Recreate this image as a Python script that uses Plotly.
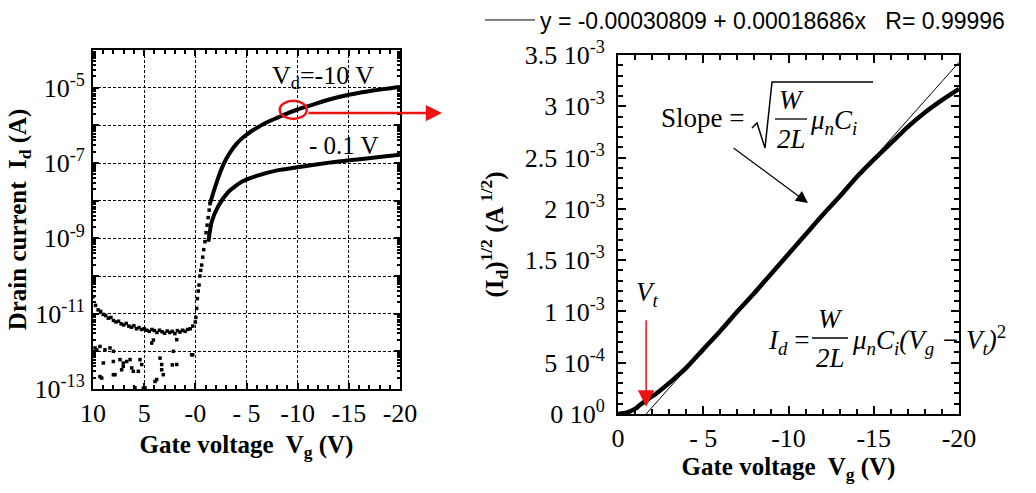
import plotly.graph_objects as go

W, H = 1036, 493


def px(x):
    return x / W


def py(y):
    return 1 - y / H


SERIF = "Liberation Serif"
SANS = "Liberation Sans"

# ---------------- left panel data (log10 of drain current) ----------------
vd10_off_vg = [10.0, 9.75, 9.5, 9.25, 9.0, 8.75, 8.5, 8.25, 8.0, 7.75, 7.5, 7.25, 7.0, 6.75,
               6.5, 6.25, 6.0, 5.75, 5.5, 5.25, 5.0, 4.75, 4.5, 4.25, 4.0, 3.75, 3.5, 3.25,
               3.0, 2.75, 2.5, 2.25, 2.0, 1.75, 1.5, 1.25, 1.0, 0.75, 0.5, 0.25, 0.0]
vd10_off_log = [-10.55, -10.78, -10.9, -10.94, -11.02, -11.05, -11.12, -11.1, -11.18, -11.22,
                -11.2, -11.27, -11.3, -11.26, -11.33, -11.36, -11.32, -11.4, -11.37, -11.42,
                -11.4, -11.44, -11.47, -11.42, -11.45, -11.5, -11.44, -11.48, -11.52, -11.46,
                -11.5, -11.47, -11.53, -11.45, -11.49, -11.44, -11.47, -11.42, -11.4, -11.33, -11.22]

vd10_sub_vg = [-0.05, -0.13, -0.2, -0.28, -0.36, -0.45, -0.53, -0.62, -0.72, -0.82, -0.94,
               -1.05, -1.15, -1.25, -1.35, -1.43]
vd10_sub_log = [-11.1, -10.86, -10.6, -10.4, -10.24, -10.0, -9.85, -9.71, -9.5, -9.3, -9.09,
                -8.85, -8.65, -8.45, -8.25, -8.08]

vd10_on_vg = [-1.43, -1.8, -2.2, -2.6, -3.0, -3.5, -4.0, -4.5, -5.0, -5.5, -6.0, -7.0, -8.0,
              -9.0, -10.0, -11.5, -13.0, -15.0, -17.5, -20.0]
vd10_on_log = [-8.08, -7.75, -7.42, -7.13, -6.9, -6.68, -6.5, -6.36, -6.25, -6.15, -6.07,
               -5.92, -5.8, -5.68, -5.58, -5.45, -5.32, -5.19, -5.07, -4.98]

vd01_on_vg = [-1.27, -1.6, -2.25, -3.22, -4.53, -6.15, -8.11, -9.84, -13.09, -15.05,
              -17.98, -20.0]
vd01_on_log = [-9.09, -8.56, -8.14, -7.77, -7.5, -7.33, -7.19, -7.12, -6.99, -6.93,
               -6.84, -6.78]

vd01_off_vg = [9.8, 9.64, 9.32, 8.83, 8.34, 8.01, 8.99, 8.01, 7.85, 7.36, 7.04, 6.71, 6.38,
               7.04, 7.2, 6.22, 5.41, 5.24, 6.06, 5.57, 9.15, 9.32, 8.01, 3.45, 3.29, 3.29,
               3.13, 3.78, 1.82, 2.15, 2.25, 4.26, 1.82, 4.92, 0.36, 0.26, 5.9, 5.08, 3.94, 4.1]
vd01_off_log = [-11.91, -11.96, -11.87, -11.96, -11.91, -12.0, -12.31, -12.27, -12.62, -12.22,
                -12.31, -12.27, -12.22, -12.4, -12.49, -12.44, -12.22, -12.35, -12.53, -12.53,
                -12.71, -12.67, -12.62, -12.18, -12.35, -12.49, -12.62, -12.75, -12.35, -12.0,
                -12.36, -11.78, -11.69, -12.97, -12.09, -12.09, -12.97, -12.98, -12.8, -11.7]

left_x_ticks = [10, 5, 0, -5, -10, -15, -20]
left_x_text = ["10", "5", "-0", "- 5", "-10", "-15", "-20"]
left_y_exps = [-13, -12, -11, -10, -9, -8, -7, -6, -5, -4]
left_y_text = ["10<sup>-13</sup>", "", "10<sup>-11</sup>", "", "10<sup>-9</sup>", "",
               "10<sup>-7</sup>", "", "10<sup>-5</sup>", ""]

# highlighted point on the Vd = -10 V curve (Vg, log10 Id)
HILITE_VG, HILITE_LOG = -9.57, -5.59

# ---------------- right panel data: sqrt(Id) ----------------
r_vg = [0, -0.5, -1.0, -1.3, -1.8, -2.25, -3.2, -4, -5, -6, -7, -8, -9, -10, -11, -12, -13,
        -14, -15, -16, -17, -18, -19, -20]
r_sqrt_id = [0, 0.000013, 0.00005, 0.00009, 0.00015, 0.0002, 0.00033, 0.00045, 0.00063,
             0.00081, 0.001, 0.00118, 0.00137, 0.00156, 0.00175, 0.00194, 0.00212, 0.00231,
             0.00248, 0.00264, 0.0028, 0.00294, 0.00306, 0.00317]

FIT_INTERCEPT = -0.00030809
FIT_SLOPE = 0.00018686
FIT_R = "0.99996"
VG_END = -20.0

right_x_ticks = [0, -5, -10, -15, -20]
right_x_text = ["0", "- 5", "-10", "-15", "-20"]
right_y_ticks = [0, 0.0005, 0.001, 0.0015, 0.002, 0.0025, 0.003, 0.0035]
right_y_text = ["0 10<sup>0</sup>", "5 10<sup>-4</sup>", "1 10<sup>-3</sup>", "1.5 10<sup>-3</sup>",
                "2 10<sup>-3</sup>", "2.5 10<sup>-3</sup>", "3 10<sup>-3</sup>", "3.5 10<sup>-3</sup>"]

# fit line (x in the fit is |Vg|)
vt = FIT_INTERCEPT / FIT_SLOPE  # threshold voltage (negative)
fit_vg = [vt, VG_END]
fit_y = [FIT_INTERCEPT + FIT_SLOPE * (-v) for v in fit_vg]

fig = go.Figure()

dot = dict(color="black", size=3.5, symbol="square")
fig.add_trace(go.Scatter(x=vd10_off_vg, y=[10 ** v for v in vd10_off_log], mode="markers",
                         marker=dot, showlegend=False, xaxis="x", yaxis="y"))
fig.add_trace(go.Scatter(x=vd10_sub_vg, y=[10 ** v for v in vd10_sub_log], mode="markers",
                         marker=dot, showlegend=False, xaxis="x", yaxis="y"))
fig.add_trace(go.Scatter(x=vd10_on_vg, y=[10 ** v for v in vd10_on_log], mode="lines",
                         line=dict(color="black", width=4, shape="spline", smoothing=0.6),
                         showlegend=False, xaxis="x", yaxis="y"))
fig.add_trace(go.Scatter(x=vd01_on_vg, y=[10 ** v for v in vd01_on_log], mode="lines",
                         line=dict(color="black", width=4, shape="spline", smoothing=0.6),
                         showlegend=False, xaxis="x", yaxis="y"))
fig.add_trace(go.Scatter(x=vd01_off_vg, y=[10 ** v for v in vd01_off_log], mode="markers",
                         marker=dot, showlegend=False, xaxis="x", yaxis="y"))

fig.add_trace(go.Scatter(x=r_vg, y=r_sqrt_id, mode="lines",
                         line=dict(color="black", width=4.5, shape="spline", smoothing=0.6),
                         showlegend=False, xaxis="x2", yaxis="y2"))
fig.add_trace(go.Scatter(x=fit_vg, y=fit_y, mode="lines", line=dict(color="black", width=1),
                         name=f"y = {FIT_INTERCEPT:.8f} + {FIT_SLOPE:.8f}x\u00a0\u00a0\u00a0R= {FIT_R}",
                         showlegend=True, xaxis="x2", yaxis="y2"))

tickfont = dict(family=SERIF, size=26, color="black")
titlefont = dict(family=SERIF, size=25, color="black")
common = dict(showline=True, linecolor="black", linewidth=2, mirror="allticks",
              ticks="inside", tickcolor="black", tickwidth=1.5, zeroline=False,
              tickfont=tickfont, fixedrange=True, automargin=False)

minor_log_vals = [k * 10.0 ** e for e in range(-13, -4) for k in range(2, 10)]

fig.update_layout(
    width=W, height=H, margin=dict(l=0, r=0, t=0, b=0, autoexpand=False),
    paper_bgcolor="white", plot_bgcolor="white",
    xaxis=dict(**common, domain=[px(93), px(400)], anchor="y", range=[10, -20],
               tickmode="array", tickvals=left_x_ticks, ticktext=left_x_text, ticklen=6,
               showgrid=True, gridcolor="black", gridwidth=1, griddash="3px,2px",
               ticklabelstandoff=0,
               minor=dict(tickmode="linear", tick0=0, dtick=1, ticks="inside", ticklen=4,
                          tickcolor="black", showgrid=False),
               title=dict(text="<b>Gate voltage  V<sub>g</sub> (V)</b>", font=titlefont,
                          standoff=8)),
    yaxis=dict(**common, domain=[py(389), py(50)], anchor="x", type="log", range=[-13, -4],
               tickmode="array", tickvals=[10.0 ** e for e in left_y_exps], ticktext=left_y_text,
               ticklen=6, showgrid=True, gridcolor="black", gridwidth=1, griddash="3px,2px",
               ticklabelstandoff=1,
               minor=dict(tickmode="array", tickvals=minor_log_vals, ticks="inside", ticklen=3,
                          tickcolor="black", showgrid=False),
               title=dict(text="<b>Drain current  I<sub>d</sub> (A)</b>", font=titlefont,
                          standoff=0)),
    xaxis2=dict(**common, domain=[px(618), px(959)], anchor="y2", range=[0, -20],
                tickmode="array", tickvals=right_x_ticks, ticktext=right_x_text, ticklen=8,
                showgrid=False, ticklabelstandoff=0,
                minor=dict(tickmode="linear", tick0=0, dtick=1, ticks="inside", ticklen=5,
                           tickcolor="black", showgrid=False),
                title=dict(text="<b>Gate voltage  V<sub>g</sub> (V)</b>", font=titlefont,
                           standoff=2)),
    yaxis2=dict(**common, domain=[py(414), py(55)], anchor="x2", range=[0, 0.0035],
                tickmode="array", tickvals=right_y_ticks, ticktext=right_y_text, ticklen=8,
                showgrid=False, ticklabelstandoff=6,
                minor=dict(tickmode="linear", tick0=0, dtick=0.0001, ticks="inside", ticklen=5,
                           tickcolor="black", showgrid=False),
                title=dict(text="<b>(I<sub>d</sub>)<sup>1/2</sup> (A<sup> 1/2</sup>)</b>",
                           font=titlefont, standoff=14)),
    legend=dict(x=px(480), y=py(20), xanchor="left", yanchor="middle", bgcolor="rgba(0,0,0,0)",
                font=dict(family=SANS, size=23, color="black"), itemwidth=50,
                tracegroupgap=0),
)

red = "#ee1111"


def note(x, y, text, font, xanchor="center"):
    fig.add_annotation(x=px(x), y=py(y), xref="paper", yref="paper", xanchor=xanchor,
                       yanchor="middle", text=text, showarrow=False, font=font)


# red ellipse around the Vd=-10 V curve (shape coords on a log axis are data values)
fig.add_shape(type="circle", xref="x", yref="y",
              x0=HILITE_VG + 1.32, x1=HILITE_VG - 1.32,
              y0=10 ** (HILITE_LOG - 0.24), y1=10 ** (HILITE_LOG + 0.24),
              line=dict(color=red, width=2.5))
fig.add_annotation(x=px(442), y=py(113), xref="paper", yref="paper", ax=-135, ay=0,
                   text="", showarrow=True, arrowhead=2, arrowsize=1.3, arrowwidth=2.5,
                   arrowcolor=red)

ann_font = dict(family=SERIF, size=26, color="black")
note(270, 77, "V<sub>d</sub>=-10 V", ann_font, "left")
note(307, 145, "- 0.1 V", dict(family=SERIF, size=25, color="black"), "left")

# Slope = sqrt(W/2L mu_n C_i)
math_font = dict(family=SERIF, size=27, color="black")
note(746, 118, "Slope =", math_font, "right")
rad = [(752, 128), (757, 123), (765, 148), (772, 82), (873, 82)]
path = "M " + " L ".join(f"{px(a):.5f},{py(b):.5f}" for a, b in rad)
fig.add_shape(type="path", xref="paper", yref="paper", path=path,
              line=dict(color="black", width=1.5))
fig.add_shape(type="line", xref="paper", yref="paper", x0=px(775), x1=px(807), y0=py(119),
              y1=py(119), line=dict(color="black", width=1.3))
note(791, 100, "<i>W</i>", math_font)
note(791, 139, "<i>2L</i>", math_font)
note(808, 122, "<i>μ<sub>n</sub>C<sub>i</sub></i>", math_font, "left")
fig.add_annotation(x=px(808), y=py(203), xref="paper", yref="paper", ax=-76, ay=-56,
                   text="", showarrow=True, arrowhead=2, arrowsize=2, arrowwidth=1.2,
                   arrowcolor="black")

# Id = W/2L mu_n C_i (Vg - Vt)^2
note(811, 342, "<i>I<sub>d</sub></i> =", math_font, "right")
fig.add_shape(type="line", xref="paper", yref="paper", x0=px(812), x1=px(848), y0=py(338),
              y1=py(338), line=dict(color="black", width=1.3))
note(830, 319, "<i>W</i>", math_font)
note(830, 358, "<i>2L</i>", math_font)
note(850, 340, "<i>μ<sub>n</sub>C<sub>i</sub>(V<sub>g</sub> − V<sub>t</sub>)</i><sup>2</sup>",
     math_font, "left")

# Vt marker
fig.add_annotation(x=vt, y=0.00007, xref="x2", yref="y2", ax=0, ay=-88, text="",
                   showarrow=True, arrowhead=2, arrowsize=2.2, arrowwidth=1.5, arrowcolor=red)
note(647, 294, "<i>V<sub>t</sub></i>", math_font)

fig.write_html("out.html", config={"displayModeBar": False},
               post_script="document.body.style.margin='0px';")
